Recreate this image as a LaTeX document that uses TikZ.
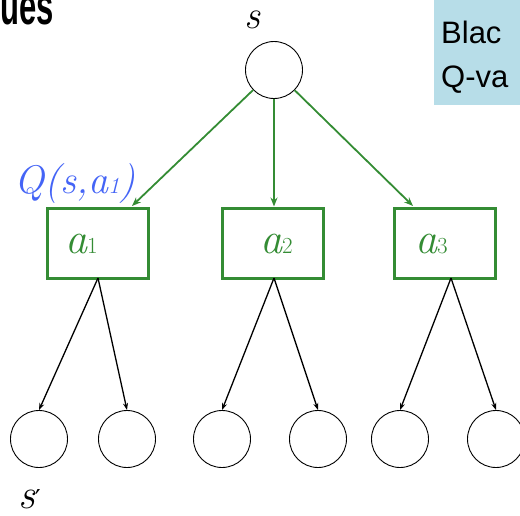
\documentclass[tikz,border=0pt]{standalone}
\usepackage{fontspec}
\newfontfamily\arialf{Liberation Sans}
\newfontfamily\djsans{DejaVu Sans}
\usetikzlibrary{arrows.meta}
\definecolor{gr}{RGB}{52,140,52}
\definecolor{qblue}{RGB}{68,100,246}
\definecolor{lblue}{RGB}{183,221,232}
\tikzset{
  state/.style={circle,draw=black,line width=0.9pt,minimum size=57pt,inner sep=0pt},
  actbox/.style={rectangle,draw=gr,line width=3pt,minimum width=101pt,minimum height=70pt,inner sep=0pt},
  garrow/.style={draw=gr,line width=1.8pt,-{Stealth[length=9pt,width=7pt]}},
  barrow/.style={draw=black,line width=1.3pt,-{Stealth[length=7pt,width=5pt]}},
  alab/.style={text=gr,inner sep=0pt,anchor=base west},
}
\newcommand{\actlab}[1]{{\fontsize{44}{44}\selectfont\itshape a}{\fontsize{23}{23}\selectfont #1}}
\begin{document}
\begin{tikzpicture}[x=1pt,y=-1pt]
\useasboundingbox (0,0) rectangle (520,515);
% top-left heading fragment
\node[anchor=base west,inner sep=0pt] (head) at (0,24)
  {\scalebox{0.62}[1.05]{\arialf\bfseries\fontsize{50}{50}\selectfont ues}};
% light blue box
\fill[lblue] (434,-5) rectangle (530,105);
\node[anchor=base west,inner sep=0pt] (bl1) at (441,43) {\arialf\fontsize{31}{31}\selectfont Blac};
\node[anchor=base west,inner sep=0pt] (bl2) at (441,87) {\arialf\fontsize{31}{31}\selectfont Q-va};
% root state
\node[state] (s) at (274,70) {};
\node[anchor=base,inner sep=0pt,text height=18pt] (slab) at (252,28) {\fontsize{40}{40}\selectfont\itshape s};
% action boxes
\node[actbox] (b1) at (97.5,243) {};
\node[actbox] (b2) at (273,243) {};
\node[actbox] (b3) at (445,243) {};
\node[alab] (l1) at (65,253) {\actlab{1}};
\node[alab] (l2) at (260,253) {\actlab{2}};
\node[alab] (l3) at (415,253) {\actlab{3}};
\node[anchor=base west,inner sep=0pt,text=qblue] (q) at (14,193)
  {\fontsize{40}{40}\selectfont\itshape Q(s,a{\fontsize{23}{23}\selectfont 1})};
% green arrows
\coordinate (t1) at (132,206);
\coordinate (t3) at (413,206);
\draw[garrow] (s) -- (t1);
\draw[garrow] (s.south) -- (s.south |- b2.north);
\draw[garrow] (s) -- (t3);
% leaf states
\node[state] (c1) at (39,439) {};
\node[state] (c2) at (127,439) {};
\node[state] (c3) at (222,439) {};
\node[state] (c4) at (318,439) {};
\node[state] (c5) at (400,439) {};
\node[state] (c6) at (496,439) {};
\node[anchor=base west,inner sep=0pt,text depth=0pt] (sp) at (18,508)
  {{\fontsize{42}{42}\selectfont\itshape s}{\djsans\fontsize{26}{26}\selectfont ′}};
% black arrows
\coordinate (o1) at (98,278);
\coordinate (o2) at (274,278);
\coordinate (o3) at (451,278);
\draw[barrow] (o1) -- (c1.north);
\draw[barrow] (o1) -- (c2.north);
\draw[barrow] (o2) -- (c3.north);
\draw[barrow] (o2) -- (c4.north);
\draw[barrow] (o3) -- (c5.north);
\draw[barrow] (o3) -- (c6.north);
\end{tikzpicture}
\end{document}
